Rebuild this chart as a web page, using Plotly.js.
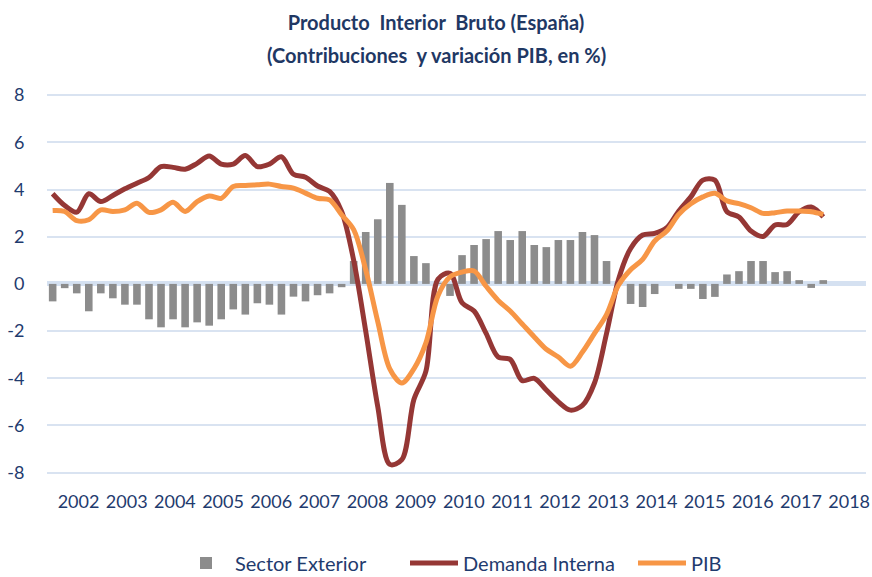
<!DOCTYPE html>
<html>
<head>
<meta charset="utf-8">
<script src="https://cdn.plot.ly/plotly-3.0.1.min.js"></script>
<style>
  html, body { margin: 0; padding: 0; background: #ffffff; }
  #chart { width: 872px; height: 577px; }
</style>
</head>
<body>
<div id="chart"></div>
<script>
// Quarterly data, 2002 T1 .. 2018 T1 (65 quarters)
const years = ['2002','2003','2004','2005','2006','2007','2008','2009','2010','2011','2012','2013','2014','2015','2016','2017','2018'];
const quarterNames = ['T1','T2','T3','T4'];

const sectorExterior = [-0.74,-0.18,-0.40,-1.16,-0.40,-0.61,-0.88,-0.88,-1.50,-1.84,
  -1.50,-1.84,-1.63,-1.77,-1.50,-1.08,-1.30,-0.82,-0.88,-1.30,
  -0.54,-0.74,-0.48,-0.40,-0.14,0.97,2.20,2.74,4.28,3.35,
  1.18,0.88,0.05,-0.51,1.22,1.65,1.90,2.24,1.86,2.24,
  1.65,1.56,1.86,1.86,2.20,2.07,0.97,0.05,-0.85,-0.98,
  -0.43,0.00,-0.21,-0.21,-0.64,-0.55,0.40,0.54,0.97,0.97,
  0.50,0.54,0.16,-0.17,0.16];

const demandaInterna = [3.82,3.32,3.04,3.82,3.49,3.75,4.03,4.27,4.51,4.97,
  4.94,4.86,5.11,5.42,5.08,5.08,5.44,4.97,5.08,5.39,
  4.65,4.52,4.15,3.92,3.07,1.00,-2.00,-5.20,-7.65,-7.45,
  -4.90,-3.70,0.20,0.45,-0.80,-1.15,-2.10,-3.10,-3.20,-4.10,
  -4.00,-4.50,-5.00,-5.35,-5.15,-4.20,-2.10,0.20,1.50,2.07,
  2.14,2.38,3.09,3.69,4.40,4.40,3.06,2.84,2.24,2.01,
  2.50,2.52,3.06,3.26,2.84];

const pib = [3.11,3.07,2.68,2.72,3.14,3.07,3.14,3.42,3.03,3.14,
  3.46,3.07,3.49,3.73,3.63,4.13,4.17,4.20,4.23,4.13,
  4.06,3.85,3.63,3.56,2.93,2.30,0.60,-1.60,-3.60,-4.20,
  -3.60,-2.50,-0.50,0.30,0.50,0.55,-0.10,-0.70,-1.15,-1.70,
  -2.25,-2.77,-3.10,-3.49,-2.89,-2.10,-1.30,-0.05,0.60,1.04,
  1.82,2.24,2.95,3.40,3.69,3.84,3.52,3.40,3.23,2.99,
  3.02,3.09,3.09,3.06,2.95];

const yTicks = [-8,-6,-4,-2,0,2,4,6,8];
const yTickText = ['-8','-6','-4','-2','0','2','4','6','8'];

// category labels for each quarter and their positions on the axis
const quarters = sectorExterior.map((_, i) => years[Math.floor(i / 4)] + ' ' + quarterNames[i % 4]);
const xPos = quarters.map((_, i) => i);
const yearTickPos = years.map((_, i) => 4 * i + 2.15);

const textColor = '#1F3B6E';
const fontFamily = 'Lato, "Open Sans", "DejaVu Sans", sans-serif';

const traces = [
  {
    type: 'bar', name: 'Sector Exterior', x: xPos, y: sectorExterior, text: quarters,
    hoverinfo: 'text+y', textposition: 'none',
    marker: { color: '#8c8c8c', line: { width: 0 } }
  },
  {
    type: 'scatter', mode: 'lines', name: 'Demanda Interna', x: xPos, y: demandaInterna, text: quarters,
    hoverinfo: 'text+y',
    line: { color: '#953735', width: 5, shape: 'spline', smoothing: 0.9 }
  },
  {
    type: 'scatter', mode: 'lines', name: 'PIB', x: xPos, y: pib, text: quarters,
    hoverinfo: 'text+y',
    line: { color: '#F79646', width: 5, shape: 'spline', smoothing: 0.9 }
  }
];

const layout = {
  width: 872, height: 577,
  paper_bgcolor: '#ffffff', plot_bgcolor: '#ffffff',
  margin: { l: 47, r: 6, t: 94, b: 102 },
  font: { family: fontFamily, color: textColor, size: 18 },
  title: {
    text: '<b>Producto\u00a0 Interior\u00a0 Bruto (España)</b>',
    font: { family: fontFamily, size: 20, color: '#1F3864' },
    x: 0.5, xanchor: 'center', xref: 'container',
    y: 1 - 23 / 577, yanchor: 'middle', yref: 'container'
  },
  annotations: [{
    text: '<b>(Contribuciones\u00a0 y variación PIB, en %)</b>',
    xref: 'paper', yref: 'paper', x: (436 - 47) / 819, y: 1 + (94 - 55) / 381,
    xanchor: 'center', yanchor: 'middle', showarrow: false,
    font: { family: fontFamily, size: 20, color: '#1F3864' }
  }],
  bargap: 0.37,
  xaxis: {
    type: 'linear', range: [-0.47, 67.55],
    tickmode: 'array', tickvals: yearTickPos, ticktext: years,
    showgrid: false, zeroline: false, showline: false,
    ticks: 'outside', ticklen: 10, tickcolor: 'rgba(0,0,0,0)',
    tickfont: { family: fontFamily, size: 18, color: textColor },
    fixedrange: true
  },
  yaxis: {
    range: [-8.1, 8.05],
    tickmode: 'array', tickvals: yTicks, ticktext: yTickText,
    showgrid: true, gridcolor: '#d9e3f1', gridwidth: 2,
    zeroline: true, zerolinecolor: '#d5e1f1', zerolinewidth: 5,
    showline: false,
    ticks: 'outside', ticklen: 18, tickcolor: 'rgba(0,0,0,0)',
    tickfont: { family: fontFamily, size: 18, color: textColor },
    fixedrange: true
  },
  showlegend: true,
  legend: {
    orientation: 'h', x: 177 / 872, xanchor: 'left', xref: 'container',
    y: 1 - 563 / 577, yanchor: 'middle', yref: 'container',
    itemwidth: 48, traceorder: 'normal',
    entrywidth: 165, entrywidthmode: 'pixels',
    font: { family: fontFamily, size: 20, color: textColor }
  }
};

Plotly.newPlot('chart', traces, layout, { displayModeBar: false, staticPlot: true });
</script>
</body>
</html>
